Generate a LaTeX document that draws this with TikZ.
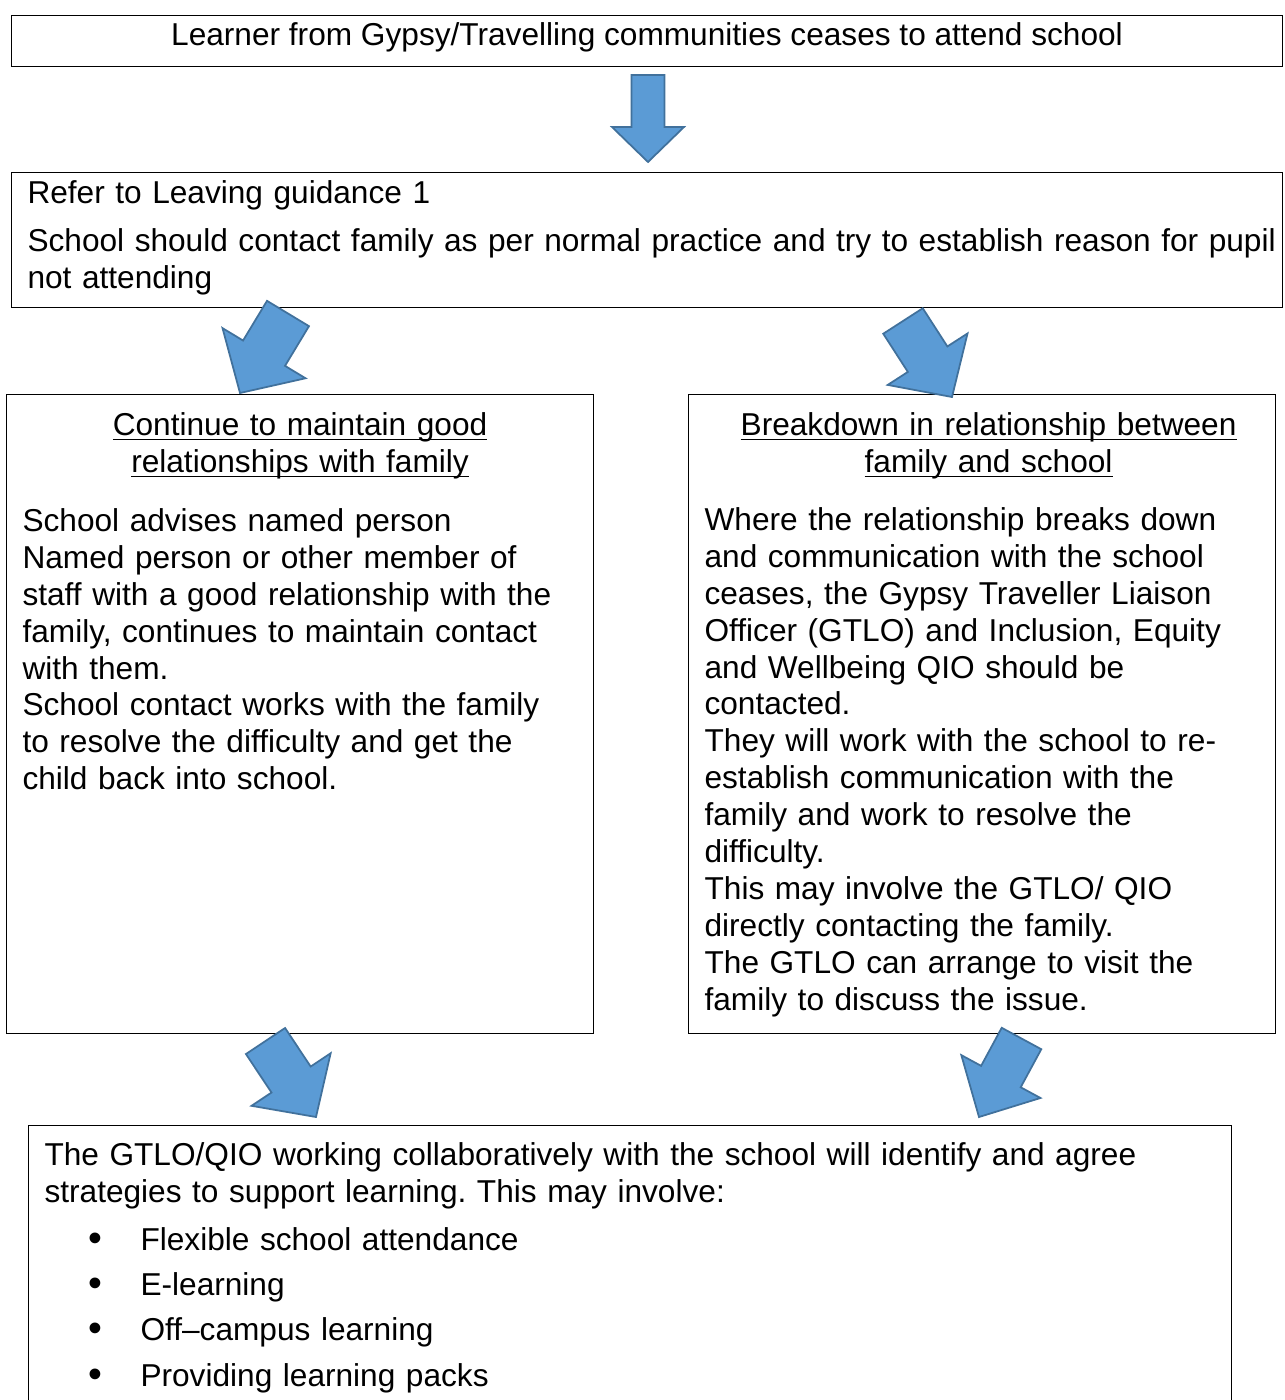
\documentclass[tikz,border=0pt]{standalone}
\usepackage{fontspec}
\setmainfont{Liberation Sans}
\usetikzlibrary{positioning,calc}
\definecolor{arrowblue}{RGB}{91,155,213}
\definecolor{arrowedge}{RGB}{65,113,156}
\frenchspacing
\tikzstyle{box} = [
    rectangle,
    draw=black,
    line width=0.6pt,
    inner xsep=0.32cm,
    inner ysep=0pt,
    font=\fontsize{18}{21}\selectfont,
    align=left
]
\tikzstyle{bigarrow} = [
    fill=arrowblue,
    draw=arrowedge,
    line width=1pt
]
% underlined heading line, rule at a fixed depth
\newcommand{\ulbox}[1]{\leavevmode\setbox0=\hbox{#1}\rlap{\rule[-2.6pt]{\wd0}{0.8pt}}\box0}
% list item in the last box
\newcommand{\bulletitem}[1]{\hspace*{0.88cm}\makebox[1.04cm][l]{\raisebox{-0.6pt}{\scalebox{1.25}{\textbullet}}}#1}
% block arrow: tail, tip, half shaft, half head, head length
\newcommand{\blockarrow}[5]{%
    \coordinate (hb) at ($(#2)!#5!(#1)$);
    \draw[bigarrow] ($(#1)!#3!90:(#2)$) -- ($(hb)!#3!90:(#2)$) -- ($(hb)!#4!90:(#2)$) -- (#2)
        -- ($(hb)!#4!-90:(#2)$) -- ($(hb)!#3!-90:(#2)$) -- ($(#1)!#3!-90:(#2)$) -- cycle;
}

\begin{document}
\begin{tikzpicture}
    \useasboundingbox (0,0) rectangle (25.7,-28);
    \clip (0,0) rectangle (25.7,-28);

    \node[box, anchor=north west, minimum width=25.42cm, text height=0.6cm, text depth=0.42cm] (learner) at (0.22,-0.3)
        {Learner from Gypsy/Travelling communities ceases to attend school};
    \node[box, below=2.1cm of learner.south west, anchor=north west, text width=24.78cm, text height=0.62cm, text depth=2.08cm] (refer)
        {Refer to Leaving guidance 1\\[0.22cm]
         \mbox{School should contact family as per normal practice and try to establish reason for pupil}\\
         not attending};

    \node[box, below right=1.72cm and -0.1cm of refer.south west, text width=11.1cm, text height=0.82cm, text depth=11.96cm] (keep)
        {\makebox[\linewidth]{\ulbox{Continue to maintain good}}\\
         \makebox[\linewidth]{\ulbox{relationships with family}}\\[0.44cm]
         School advises named person\\
         Named person or other member of\\
         staff with a good relationship with the\\
         family, continues to maintain contact\\
         with them.\\
         School contact works with the family\\
         to resolve the difficulty and get the\\
         child back into school.};
    \node[box, right=1.88cm of keep, text width=11.1cm, text height=0.82cm, text depth=11.96cm] (breakdown)
        {\makebox[\linewidth]{\hspace{0.26cm}\ulbox{Breakdown in relationship between}}\\
         \makebox[\linewidth]{\hspace{0.26cm}\ulbox{family and school}}\\[0.42cm]
         Where the relationship breaks down\\
         and communication with the school\\
         ceases, the Gypsy Traveller Liaison\\
         Officer (GTLO) and Inclusion, Equity\\
         and Wellbeing QIO should be\\
         contacted.\\
         They will work with the school to re-\\
         establish communication with the\\
         family and work to resolve the\\
         difficulty.\\
         This may involve the GTLO/ QIO\\
         directly contacting the family.\\
         The GTLO can arrange to visit the\\
         family to discuss the issue.};

    \node[box, below right=1.82cm and 0.44cm of keep.south west, text width=23.42cm, text height=0.79cm, text depth=5.2cm] (strategies)
        {The GTLO/QIO working collaboratively with the school will identify and agree\\
         strategies to support learning. This may involve:\\[0.22cm]
         \bulletitem{Flexible school attendance}\\[0.17cm]
         \bulletitem{E-learning}\\[0.17cm]
         \bulletitem{Off--campus learning}\\[0.17cm]
         \bulletitem{Providing learning packs}};

    % block arrows between the boxes
    \coordinate (a1s) at (12.96,-1.5);
    \coordinate (a1e) at (12.96,-3.24);
    \coordinate (a2s) at (5.76,-6.27);
    \coordinate (a2e) at (4.8,-7.86);
    \coordinate (a3s) at (18.06,-6.42);
    \coordinate (a3e) at (19.04,-7.94);
    \coordinate (a4s) at (5.31,-20.82);
    \coordinate (a4e) at (6.32,-22.34);
    \coordinate (a5s) at (20.43,-20.77);
    \coordinate (a5e) at (19.58,-22.34);

    \blockarrow{a1s}{a1e}{0.33cm}{0.72cm}{0.7cm}
    \blockarrow{a2s}{a2e}{0.49cm}{0.97cm}{0.93cm}
    \blockarrow{a3s}{a3e}{0.47cm}{0.95cm}{0.9cm}
    \blockarrow{a4s}{a4e}{0.47cm}{0.95cm}{0.9cm}
    \blockarrow{a5s}{a5e}{0.45cm}{0.9cm}{0.92cm}
\end{tikzpicture}
\end{document}
